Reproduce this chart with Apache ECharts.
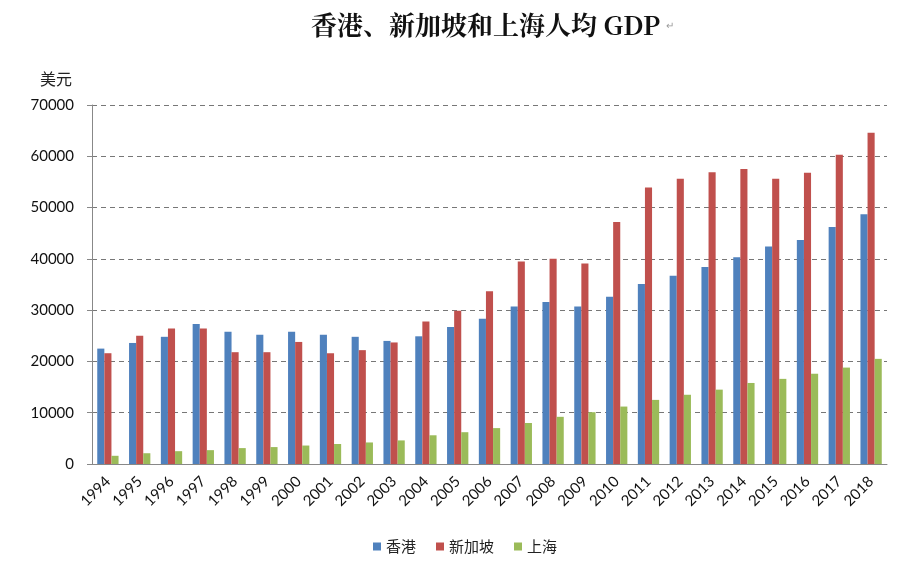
<!DOCTYPE html>
<html><head><meta charset="utf-8">
<script src="https://cdn.jsdelivr.net/npm/echarts@6/dist/echarts.min.js"></script>
<style>html,body{margin:0;padding:0;background:#fff}#c{width:898px;height:567px}</style>
</head><body><div id="c"></div>
<script>
const years = ['1994','1995','1996','1997','1998','1999','2000','2001','2002','2003','2004','2005','2006','2007','2008','2009','2010','2011','2012','2013','2014','2015','2016','2017','2018'];
const hongKong = [22500,23600,24800,27300,25800,25200,25800,25200,24800,24000,24900,26700,28300,30700,31600,30700,32600,35100,36700,38400,40300,42400,43700,46200,48700];
const singapore = [21600,25000,26400,26400,21800,21800,23800,21600,22200,23700,27800,29900,33700,39500,40000,39100,47200,53900,55600,56900,57500,55600,56800,60300,64600];
const shanghai = [1600,2100,2500,2700,3100,3300,3600,3900,4200,4600,5600,6200,7000,8000,9200,10100,11200,12500,13500,14500,15800,16600,17600,18800,20500];
const seriesNames = ['香港','新加坡','上海'];
const colors = ['#4F81BD','#C0504D','#9BBB59'];
const font = 'Lato, "Noto Sans CJK SC", sans-serif';
const chart = echarts.init(document.getElementById('c'));
const mk = (name, data, i) => ({name, type:'bar', data, barGap:'0%', barCategoryGap:'33%', itemStyle:{color:colors[i]}});
chart.setOption({
  animation:false,
  title:{text:'香港、新加坡和上海人均 GDP', left:306, top:7,
    textStyle:{fontFamily:'"Noto Serif CJK SC","Noto Sans CJK SC",serif', fontSize:26, fontWeight:'bold', color:'#111'}},
  graphic:[{type:'text', left:666, top:21, style:{text:'↵', fontSize:10, fill:'#999'}},
           {type:'text', left:40, top:71, style:{text:'美元', fill:'#222', font:'16px "Noto Sans CJK SC"'}}],
  legend:{bottom:8, left:368, itemWidth:8, itemHeight:8, itemGap:20, icon:'rect',
    textStyle:{fontFamily:'"Noto Sans CJK SC"', fontSize:15, color:'#222'}, data:seriesNames},
  grid:{left:92, right:11, top:105, bottom:103},
  xAxis:{type:'category', data:years,
    axisLine:{lineStyle:{color:'#888'}}, axisTick:{length:5, lineStyle:{color:'#888'}},
    axisLabel:{rotate:45, fontFamily:font, fontSize:15, color:'#111', margin:15, interval:0}},
  yAxis:{type:'value', min:0, max:70000, interval:10000,
    axisLine:{show:true, lineStyle:{color:'#888'}}, axisTick:{show:true, length:5, lineStyle:{color:'#888'}},
    axisLabel:{fontFamily:font, fontSize:15, color:'#111', margin:18, formatter:v => String(v)},
    splitLine:{lineStyle:{color:'#777', type:[5,4]}}},
  series:[mk(seriesNames[0], hongKong, 0), mk(seriesNames[1], singapore, 1), mk(seriesNames[2], shanghai, 2)]
});
</script></body></html>
